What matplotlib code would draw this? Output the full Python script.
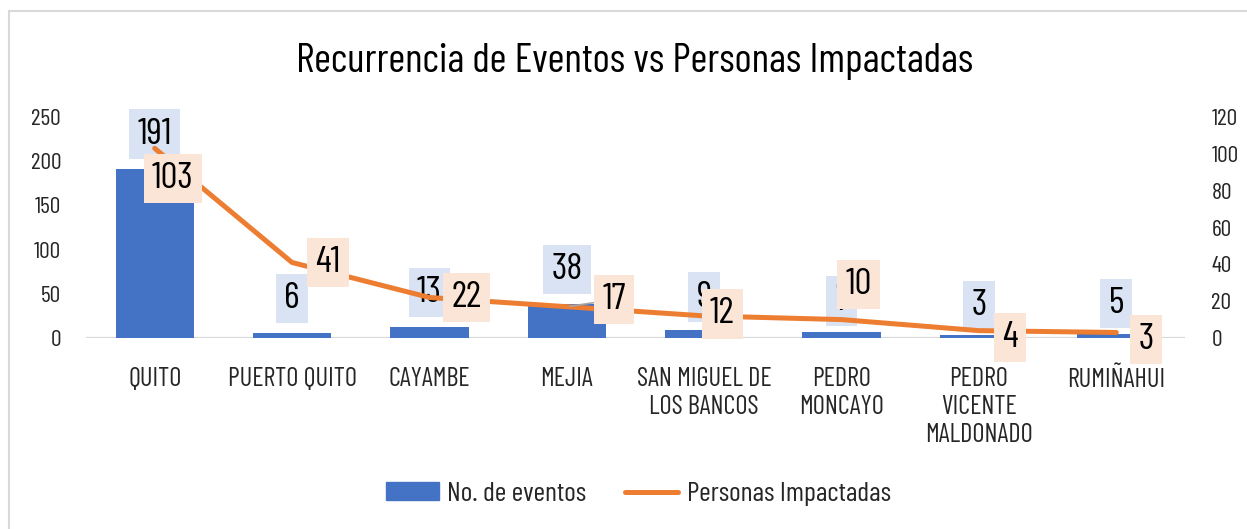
import matplotlib.pyplot as plt
from matplotlib.patches import Rectangle

# data
categories = ["QUITO", "PUERTO QUITO", "CAYAMBE", "MEJIA",
              "SAN MIGUEL DE\nLOS BANCOS", "PEDRO\nMONCAYO",
              "PEDRO\nVICENTE\nMALDONADO", "RUMIÑAHUI"]
eventos = [191, 6, 13, 38, 9, 7, 3, 5]
personas = [103, 41, 22, 17, 12, 10, 4, 3]

# label offsets in pixels (how the labels sit in the original)
bar_lbl_off = [(0, 35), (0, 34), (0, 34), (0, 35), (0, 33), (0, 31), (0, 30), (0, 30)]
line_lbl_off = [(18, -30), (36, 0), (37, 0), (47, 7), (18, 2), (17, 35), (31, -7), (30, -7)]

BLUE = "#4472C4"
ORANGE = "#ED7D31"
FONT = ["Barlow Condensed", "Roboto Condensed", "Liberation Sans Narrow", "DejaVu Sans"]
plt.rcParams["font.family"] = FONT
plt.rcParams["text.color"] = "#262626"

fig = plt.figure(figsize=(12.47, 5.29), dpi=100)
ax = fig.add_axes([86 / 1247, 1 - 338 / 529, 1099 / 1247, 221 / 529])
ax2 = ax.twinx()

x = list(range(len(categories)))
ax.bar(x, eventos, width=0.57, color=BLUE, zorder=2)
ax2.plot(x, personas, color=ORANGE, lw=3.6, solid_capstyle="round", zorder=3)

ax.set_xlim(-0.5, len(categories) - 0.5)
ax.set_ylim(0, 250)
ax.set_yticks(range(0, 251, 50))
ax2.set_ylim(0, 120)
ax2.set_yticks(range(0, 121, 20))

for a in (ax, ax2):
    for s in a.spines.values():
        s.set_visible(False)
ax.axhline(0, color="#D9D9D9", lw=1.6, zorder=1)

ax.tick_params(axis="y", length=0, pad=18, labelsize=17, labelcolor="#262626")
ax2.tick_params(axis="y", length=0, pad=19, labelsize=17, labelcolor="#262626")
ax.set_xticks(x)
ax.set_xticklabels(categories, fontsize=19, linespacing=1.2, va="top")
ax.tick_params(axis="x", length=0, pad=21, labelcolor="#262626")

# data labels
for i, v in enumerate(eventos):
    ax.annotate(str(v), (i, v), xytext=bar_lbl_off[i], textcoords="offset pixels",
                ha="center", va="center", fontsize=27, zorder=5, color="black",
                bbox=dict(boxstyle="square,pad=0.22", fc="#DAE3F3", ec="none"))
for i, v in enumerate(personas):
    # the moved "17" label keeps a small leader line in the original
    arrow = None
    if i == 3:
        arrow = dict(arrowstyle="-", color="#A6A6A6", lw=1.2, shrinkA=0, shrinkB=2)
    ax2.annotate(str(v), (i, v), xytext=line_lbl_off[i], textcoords="offset pixels",
                 ha="center", va="center", fontsize=27, zorder=6, color="black",
                 arrowprops=arrow,
                 bbox=dict(boxstyle="square,pad=0.22", fc="#FBE5D6", ec="none"))

fig.text(0.509, 1 - 61 / 529, "Recurrencia de Eventos vs Personas Impactadas",
         ha="center", va="center", fontsize=29.5, color="black")

# legend
handles = [Rectangle((0, 0), 1, 1, color=BLUE),
           plt.Line2D([0], [0], color=ORANGE, lw=3.6, solid_capstyle="round")]
fig.legend(handles, ["No. de eventos", "Personas Impactadas"], loc="center",
           bbox_to_anchor=(0.512, 1 - 494 / 529), ncol=2, frameon=False,
           fontsize=20, handlelength=1.9, handleheight=0.6, handletextpad=0.3,
           columnspacing=1.4)

# chart border (only top/left visible in the crop)
fig.patches.append(Rectangle((9 / 1247, -0.2), 1.2, 1.2 - 11 / 529,
                             transform=fig.transFigure, fill=False,
                             ec="#D9D9D9", lw=1.5))

fig.savefig("out.png", dpi=100)
